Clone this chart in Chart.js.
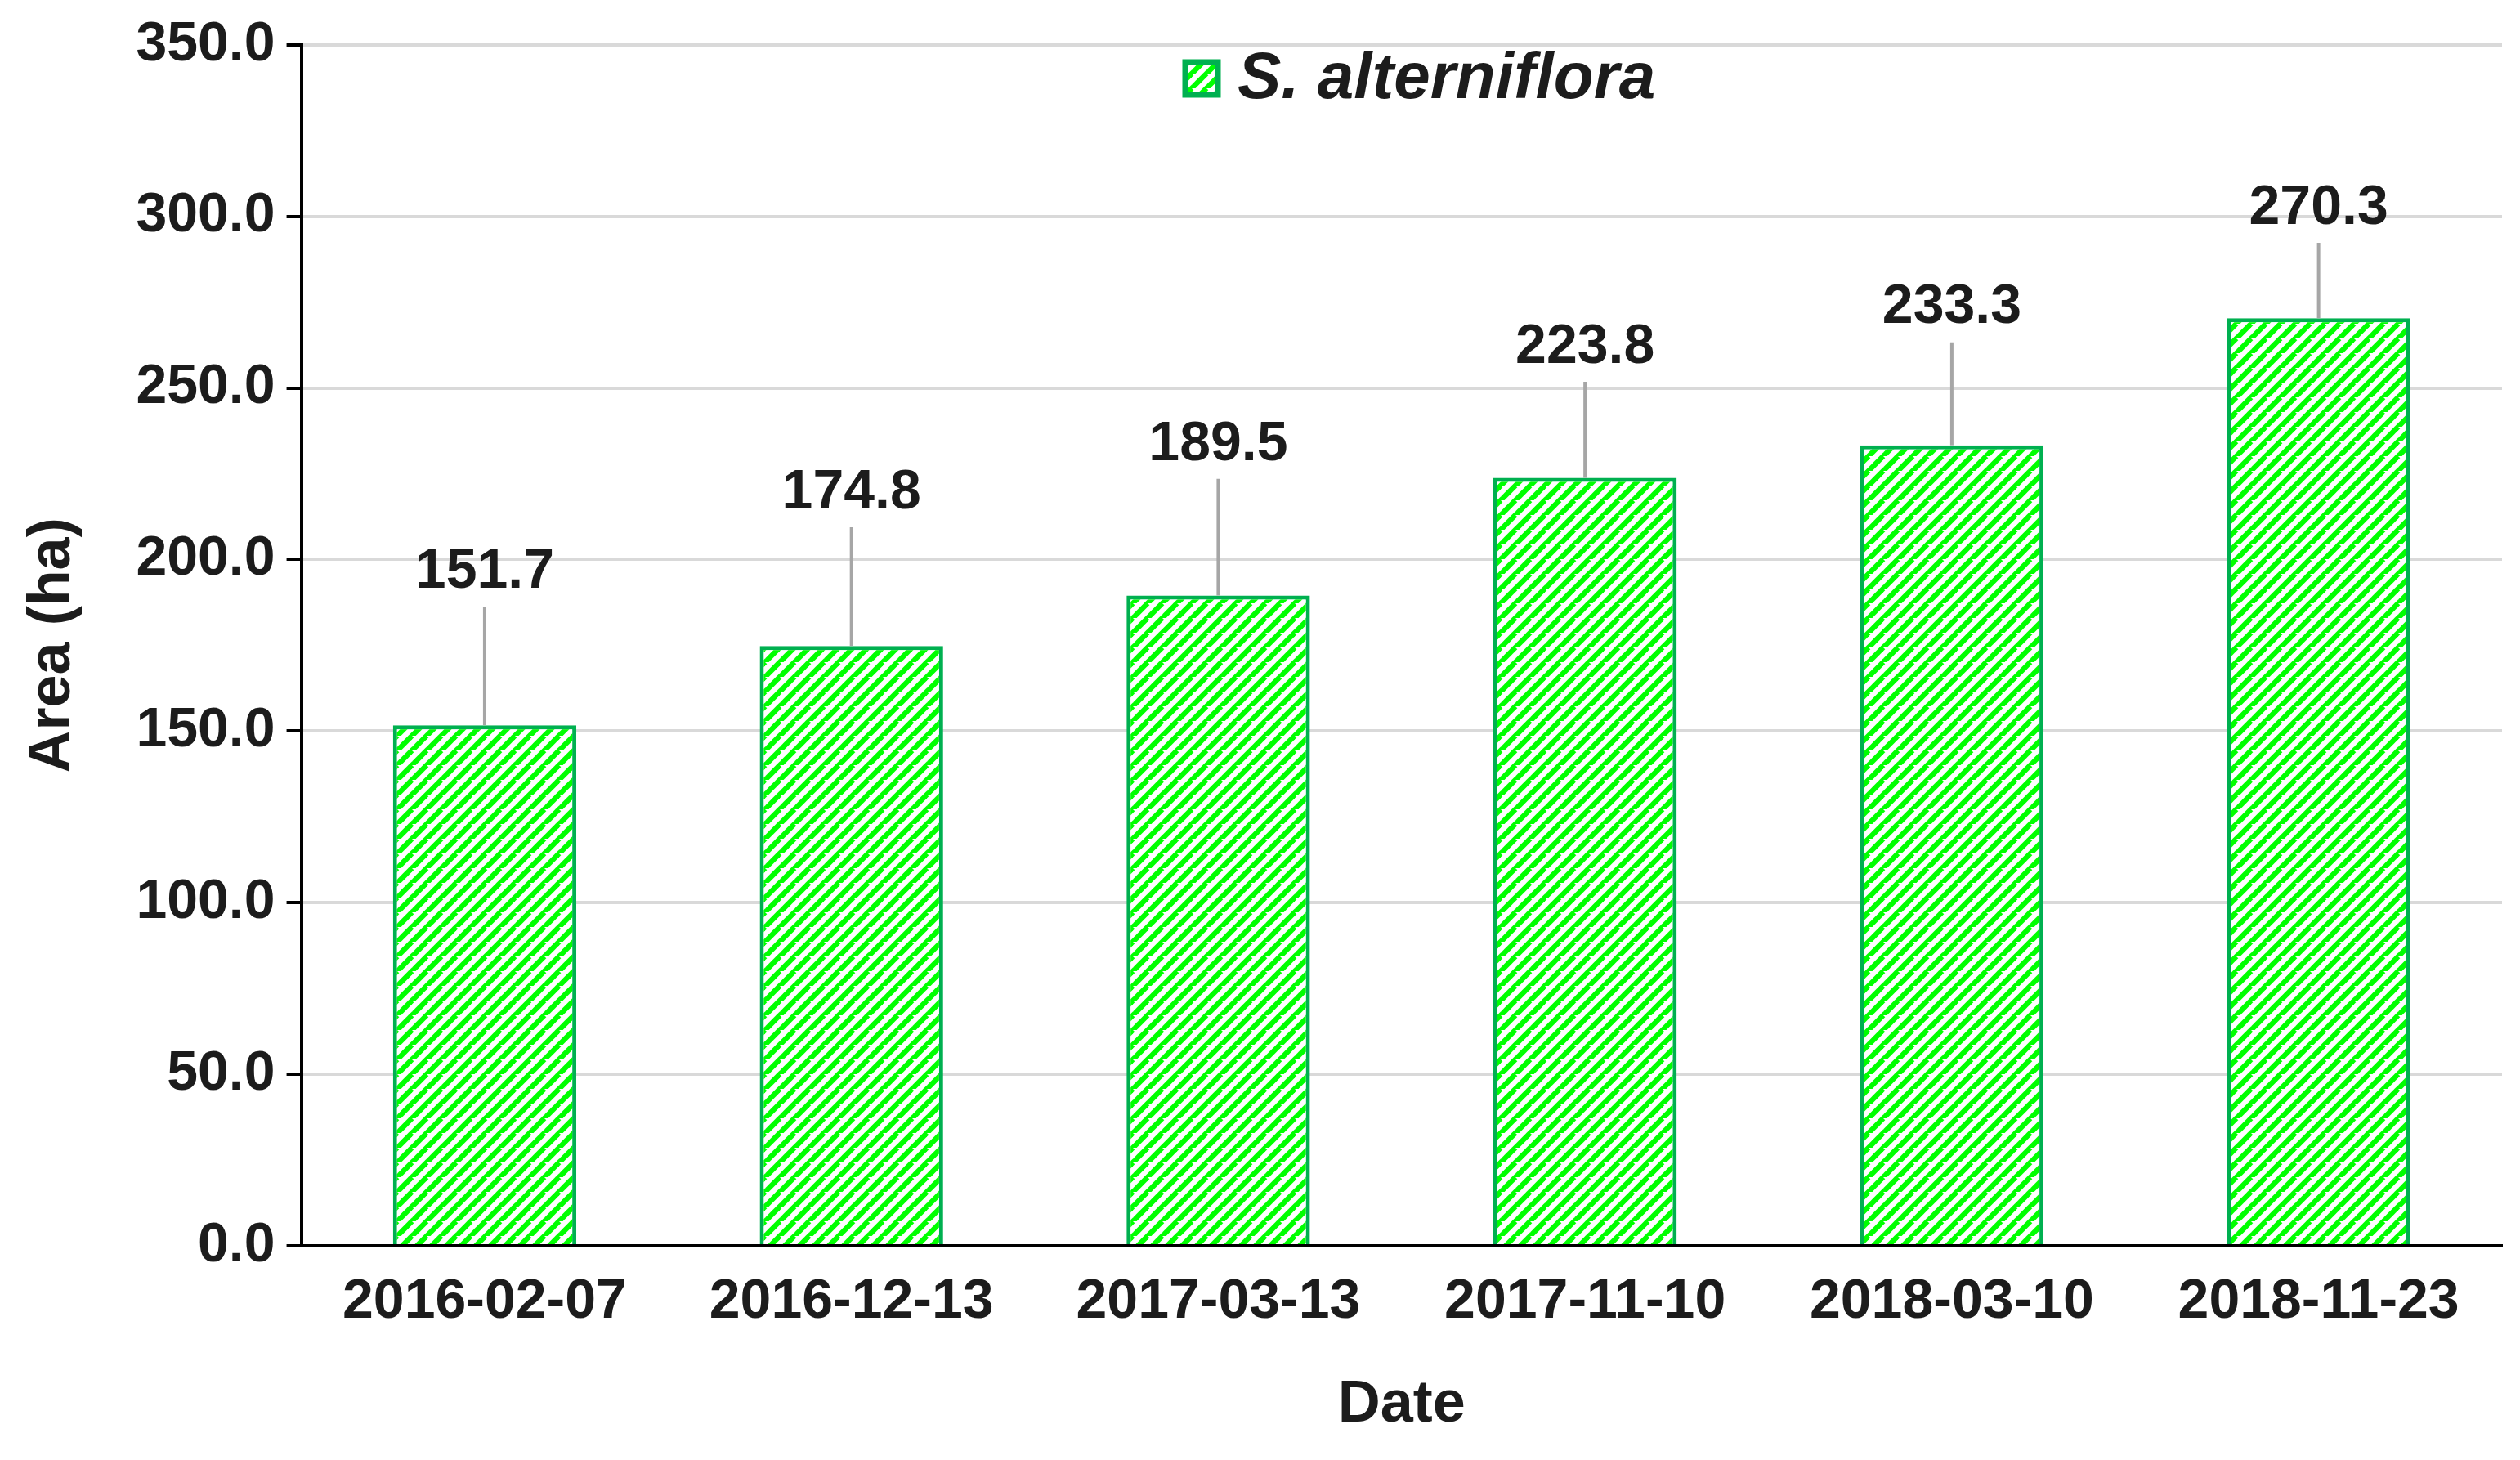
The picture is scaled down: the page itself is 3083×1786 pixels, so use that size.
<!DOCTYPE html>
<html>
<head>
<meta charset="utf-8">
<script src="https://cdn.jsdelivr.net/npm/chart.js@4/dist/chart.umd.min.js"></script>
<style>
  body { margin: 0; background: #fff; }
  canvas { display: block; }
</style>
</head>
<body>
<canvas id="c" width="3083" height="1786"></canvas>
<script>
const dates = ["2016-02-07", "2016-12-13", "2017-03-13", "2017-11-10", "2018-03-10", "2018-11-23"];
const areas = [151.7, 174.8, 189.5, 223.8, 233.3, 270.3];
const errors = [34.5, 34.6, 34, 28, 30, 22];
const yTicks = [0, 50, 100, 150, 200, 250, 300, 350];

// diagonal hatch like the Excel pattern fill
function makeHatch() {
  const t = document.createElement("canvas");
  t.width = 18; t.height = 18;
  const g = t.getContext("2d");
  g.fillStyle = "#ffffff";
  g.fillRect(0, 0, 18, 18);
  g.strokeStyle = "#00ff00";
  g.lineWidth = 6.5;
  for (let k = -18; k <= 36; k += 18) {
    g.beginPath();
    g.moveTo(k - 18, 36);
    g.lineTo(k + 18, 0);
    g.stroke();
  }
  return g.createPattern(t, "repeat");
}

const ctx = document.getElementById("c").getContext("2d");
const hatch = makeHatch();
const FONT = "Liberation Sans, Arial, sans-serif";

// error bars + value labels + legend
const extras = {
  id: "extras",
  afterDatasetsDraw(chart) {
    const c = chart.ctx;
    const meta = chart.getDatasetMeta(0);
    const y = chart.scales.y;
    c.save();
    meta.data.forEach((bar, i) => {
      const top = y.getPixelForValue(areas[i] + errors[i]);
      c.strokeStyle = "#a6a6a6";
      c.lineWidth = 4;
      c.beginPath();
      c.moveTo(bar.x, bar.y);
      c.lineTo(bar.x, top);
      c.stroke();
      c.fillStyle = "#1c1c1c";
      c.font = "bold 68px " + FONT;
      c.textAlign = "center";
      c.textBaseline = "bottom";
      c.fillText(areas[i].toFixed(1), bar.x, top - 8);
    });
    const lx = 1470, ly = 96;
    c.fillStyle = hatch;
    c.fillRect(lx - 20, ly - 20, 40, 40);
    c.strokeStyle = "#00b050";
    c.lineWidth = 7;
    c.strokeRect(lx - 20, ly - 20, 40, 40);
    c.fillStyle = "#1c1c1c";
    c.font = "italic bold 80px " + FONT;
    c.textAlign = "left";
    c.textBaseline = "middle";
    c.fillText("S. alterniflora", lx + 44, ly + 2);
    c.restore();
  }
};

new Chart(ctx, {
  type: "bar",
  data: {
    labels: dates,
    datasets: [{
      label: "S. alterniflora",
      data: areas,
      backgroundColor: hatch,
      borderColor: "#00b050",
      borderWidth: 5,
      barPercentage: 0.5,
      categoryPercentage: 1
    }]
  },
  options: {
    responsive: false,
    devicePixelRatio: 1,
    animation: false,
    layout: { padding: { left: 18, right: 22, top: 30, bottom: 20 } },
    plugins: { legend: { display: false }, tooltip: { enabled: false } },
    scales: {
      x: {
        grid: { display: false, drawTicks: false },
        border: { color: "#000", width: 4 },
        ticks: { color: "#1c1c1c", font: { family: FONT, size: 68, weight: "bold" }, padding: 28, maxRotation: 0 },
        title: { display: true, text: "Date", color: "#1c1c1c", font: { family: FONT, size: 72, weight: "bold" }, padding: { top: 14 } }
      },
      y: {
        min: 0, max: 350,
        afterBuildTicks: s => { s.ticks = yTicks.map(v => ({ value: v })); },
        grid: { color: "#d9d9d9", lineWidth: 4, tickLength: 18, tickColor: "#000" },
        border: { color: "#000", width: 4 },
        ticks: { color: "#1c1c1c", font: { family: FONT, size: 68, weight: "bold" }, padding: 14, callback: v => v.toFixed(1) },
        title: { display: true, text: "Area (ha)", color: "#1c1c1c", font: { family: FONT, size: 72, weight: "bold" }, padding: { bottom: 44 } }
      }
    }
  },
  plugins: [extras]
});
</script>
</body>
</html>
